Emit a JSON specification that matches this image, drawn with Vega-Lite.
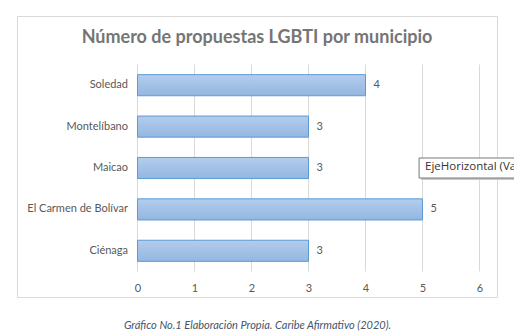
{
  "$schema": "https://vega.github.io/schema/vega-lite/v6.json",
  "width": 480,
  "height": 281,
  "autosize": {"type": "none"},
  "padding": {"left": 17, "top": 16, "right": 17, "bottom": 37},
  "background": "white",
  "config": {
    "view": {"stroke": "#d9d9d9", "strokeWidth": 1},
    "font": "Lato"
  },
  "title": {
    "text": "Número de propuestas LGBTI por municipio",
    "font": "Lato",
    "fontSize": 18,
    "fontWeight": "bold",
    "color": "#757575",
    "anchor": "middle",
    "frame": "group",
    "baseline": "alphabetic",
    "offset": -45
  },
  "datasets": {
    "grid": [{"v": 0}, {"v": 1}, {"v": 2}, {"v": 3}, {"v": 4}, {"v": 5}, {"v": 6}]
  },
  "data": {
    "values": [
      {"municipio": "Soledad", "value": 4},
      {"municipio": "Montelíbano", "value": 3},
      {"municipio": "Maicao", "value": 3},
      {"municipio": "El Carmen de Bolívar", "value": 5},
      {"municipio": "Ciénaga", "value": 3}
    ]
  },
  "layer": [
    {
      "data": {"name": "grid"},
      "mark": {"type": "rule", "color": "#d9d9d9", "strokeWidth": 1},
      "encoding": {
        "x": {"field": "v", "type": "quantitative", "title": "Gráfico No.1 Elaboración Propia. Caribe Afirmativo (2020)."},
        "y": {"datum": "Soledad", "type": "nominal", "bandPosition": -0.48},
        "y2": {"datum": "Ciénaga", "bandPosition": 1.48}
      }
    },
    {
      "mark": {
        "type": "bar",
        "stroke": "#5b9bd5",
        "strokeWidth": 1,
        "color": {
          "gradient": "linear",
          "x1": 0, "y1": 0, "x2": 0, "y2": 1,
          "stops": [
            {"offset": 0, "color": "#b3cdec"},
            {"offset": 1, "color": "#93b6e1"}
          ]
        }
      },
      "encoding": {
        "y": {
          "field": "municipio",
          "type": "nominal",
          "sort": ["Soledad", "Montelíbano", "Maicao", "El Carmen de Bolívar", "Ciénaga"],
          "scale": {"domain": ["Soledad", "Montelíbano", "Maicao", "El Carmen de Bolívar", "Ciénaga"], "range": [48.5, 255.5], "paddingInner": 0.49, "paddingOuter": 0.245},
          "axis": {
            "title": null,
            "orient": "left",
            "offset": -120.5,
            "domain": false,
            "ticks": false,
            "grid": false,
            "labelPadding": 10,
            "labelFont": "Lato",
            "labelFontSize": 11,
            "labelColor": "#595959"
          }
        },
        "x": {
          "field": "value",
          "type": "quantitative",
          "scale": {"domain": [-2.114, 6.307], "nice": false, "zero": false},
          "axis": {
            "title": "Gráfico No.1 Elaboración Propia. Caribe Afirmativo (2020).",
            "titleFont": "Lato",
            "titleFontStyle": "italic",
            "titleFontWeight": "normal",
            "titleFontSize": 11,
            "titleColor": "#44546a",
            "titlePadding": 22,
            "values": [0, 1, 2, 3, 4, 5, 6],
            "format": "d",
            "domain": false,
            "ticks": false,
            "grid": false,
            "labelPadding": -15,
            "labelBaseline": "top",
            "labelFont": "Lato",
            "labelFontSize": 11,
            "labelColor": "#595959"
          }
        }
      }
    },
    {
      "mark": {"type": "text", "align": "left", "dx": 8, "font": "Lato", "fontSize": 11, "color": "#595959"},
      "encoding": {
        "y": {"field": "municipio", "type": "nominal", "sort": ["Soledad", "Montelíbano", "Maicao", "El Carmen de Bolívar", "Ciénaga"]},
        "x": {"field": "value", "type": "quantitative", "title": "Gráfico No.1 Elaboración Propia. Caribe Afirmativo (2020)."},
        "text": {"field": "value"}
      }
    },
    {
      "data": {"values": [{"municipio": "Maicao", "value": 4.94, "value2": 7.5, "label": "EjeHorizontal (Valor)"}]},
      "layer": [
        {
          "mark": {"type": "bar", "height": 20, "fill": "#c8c8c8", "xOffset": 2, "yOffset": 2, "clip": false},
          "encoding": {
            "y": {"field": "municipio", "type": "nominal", "sort": ["Soledad", "Montelíbano", "Maicao", "El Carmen de Bolívar", "Ciénaga"]},
            "x": {"field": "value", "type": "quantitative", "title": "Gráfico No.1 Elaboración Propia. Caribe Afirmativo (2020)."},
            "x2": {"field": "value2"}
          }
        },
        {
          "mark": {"type": "bar", "height": 20, "fill": "white", "stroke": "#767676", "strokeWidth": 1, "clip": false},
          "encoding": {
            "y": {"field": "municipio", "type": "nominal", "sort": ["Soledad", "Montelíbano", "Maicao", "El Carmen de Bolívar", "Ciénaga"]},
            "x": {"field": "value", "type": "quantitative", "title": "Gráfico No.1 Elaboración Propia. Caribe Afirmativo (2020)."},
            "x2": {"field": "value2"}
          }
        },
        {
          "mark": {"type": "text", "align": "left", "dx": 6, "dy": -1, "font": "Open Sans", "fontSize": 11.5, "color": "#333333", "clip": false},
          "encoding": {
            "y": {"field": "municipio", "type": "nominal", "sort": ["Soledad", "Montelíbano", "Maicao", "El Carmen de Bolívar", "Ciénaga"]},
            "x": {"field": "value", "type": "quantitative", "title": "Gráfico No.1 Elaboración Propia. Caribe Afirmativo (2020)."},
            "text": {"field": "label"}
          }
        }
      ]
    }
  ]
}
